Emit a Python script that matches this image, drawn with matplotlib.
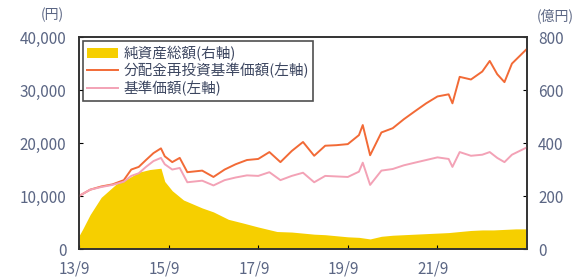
# Fund chart: net assets (right axis) and NAV lines (left axis)
import matplotlib
matplotlib.use('Agg')
import matplotlib.pyplot as plt
import matplotlib.transforms as mtrans
import pandas as pd

plt.rcParams['font.family'] = ['Noto Sans CJK JP', 'DejaVu Sans']

# reinvested NAV (yen)
reinv_dates = ['2013-09', '2013-12', '2014-03', '2014-06', '2014-09', '2014-11', '2015-01',
               '2015-03', '2015-05', '2015-07', '2015-08', '2015-10', '2015-12', '2016-02',
               '2016-06', '2016-09', '2016-12', '2017-03', '2017-06', '2017-09', '2017-12',
               '2018-03', '2018-06', '2018-09', '2018-12', '2019-03', '2019-06', '2019-09',
               '2019-12', '2020-01', '2020-03', '2020-06', '2020-09', '2020-12', '2021-03',
               '2021-06', '2021-09', '2021-12', '2022-01', '2022-03', '2022-06', '2022-09',
               '2022-11', '2023-01', '2023-03', '2023-05', '2023-09']
reinv_nav = [10000, 11200, 11800, 12200, 13000, 15000, 15500,
             16800, 18100, 19000, 17500, 16400, 17200, 14500,
             14800, 13600, 15000, 16000, 16800, 17000, 18300,
             16400, 18500, 20200, 17600, 19500, 19600, 19800,
             21500, 23400, 17700, 22000, 22800, 24500, 26000,
             27500, 28800, 29200, 27500, 32500, 32000, 33500,
             35500, 33000, 31500, 35000, 37800]

# NAV (yen), same dates
nav = [10000, 11200, 11700, 12100, 12700, 13800, 14300,
       15500, 16600, 17200, 16000, 15000, 15300, 12600,
       12900, 12000, 13000, 13500, 13900, 13800, 14500,
       13000, 13800, 14400, 12600, 13800, 13700, 13600,
       14600, 16300, 12100, 14800, 15100, 15800, 16300,
       16800, 17300, 17000, 15500, 18300, 17600, 17800,
       18300, 17200, 16400, 17800, 19200]

# net assets (100 million yen)
asset_dates = ['2013-09', '2013-10', '2013-12', '2014-03', '2014-07', '2014-10', '2015-01',
               '2015-04', '2015-07', '2015-08', '2015-10', '2016-01', '2016-06', '2016-09',
               '2017-01', '2017-05', '2017-09', '2018-02', '2018-06', '2018-09', '2018-12',
               '2019-03', '2019-06', '2019-09', '2019-12', '2020-03', '2020-06', '2020-09',
               '2020-12', '2021-03', '2021-06', '2021-09', '2021-12', '2022-03', '2022-06',
               '2022-09', '2022-12', '2023-03', '2023-06', '2023-09']
net_assets = [50, 75, 130, 195, 245, 265, 290,
              300, 305, 255, 220, 185, 155, 140,
              112, 98, 83, 66, 64, 60, 56,
              54, 50, 46, 44, 38, 48, 52,
              54, 56, 58, 60, 62, 66, 70,
              72, 72, 74, 76, 76]

xtick_dates = ['2013-09', '2015-09', '2017-09', '2019-09', '2021-09']
xtick_labels = ['13/9', '15/9', '17/9', '19/9', '21/9']

label_col = '#5b6684'

fig = plt.figure(figsize=(5.83, 2.79), dpi=100)
ax = fig.add_axes([0.1355, 0.1075, 0.7685, 0.7595])
ax2 = ax.twinx()
ax.set_zorder(ax2.get_zorder() + 1)
ax.patch.set_visible(False)

area = ax2.fill_between(pd.to_datetime(asset_dates), net_assets, 0,
                        color='#f6cf00', linewidth=0, label='純資産総額(右軸)')
l1, = ax.plot(pd.to_datetime(reinv_dates), reinv_nav, color='#f26a36', lw=1.4,
              label='分配金再投資基準価額(左軸)')
l2, = ax.plot(pd.to_datetime(reinv_dates), nav, color='#f3a2b6', lw=1.4,
              label='基準価額(左軸)')

ax.set_xlim(pd.Timestamp('2013-09-01'), pd.Timestamp('2023-09-01'))
ax.set_ylim(0, 40000)
ax2.set_ylim(0, 800)
ax.set_yticks([0, 10000, 20000, 30000, 40000])
ax.set_yticklabels(['0', '10,000', '20,000', '30,000', '40,000'])
ax2.set_yticks([0, 200, 400, 600, 800])
ax.set_xticks(pd.to_datetime(xtick_dates))
ax.set_xticklabels(xtick_labels)

for a in (ax, ax2):
    for s in a.spines.values():
        s.set_color('#333333')
        s.set_linewidth(1.2)
ax.tick_params(axis='y', direction='in', length=3, pad=9, labelsize=11, labelcolor=label_col)
ax.tick_params(axis='x', direction='in', length=3, pad=8, labelsize=11, labelcolor=label_col)
ax2.tick_params(axis='y', direction='in', length=3, pad=8, labelsize=11, labelcolor=label_col)

# x labels sit a little left of their ticks in the original
shift = mtrans.ScaledTranslation(-3 / 72, 0, fig.dpi_scale_trans)
for lab in ax.get_xticklabels():
    lab.set_transform(lab.get_transform() + shift)

fig.text(0.089, 0.945, '(円)', ha='center', va='center', fontsize=10, color=label_col)
fig.text(0.952, 0.945, '(億円)', ha='center', va='center', fontsize=10, color=label_col)

leg = ax.legend(handles=[area, l1, l2], loc='upper left', bbox_to_anchor=(0.008, 0.98),
                fontsize=10.5, frameon=True, fancybox=False, edgecolor='#222222',
                handlelength=2.1, handletextpad=0.4, labelspacing=0.15,
                borderpad=0.3, borderaxespad=0)
leg.get_frame().set_linewidth(1.2)
for t in leg.get_texts():
    t.set_color('#3c4660')

fig.savefig('out.png', dpi=100)
